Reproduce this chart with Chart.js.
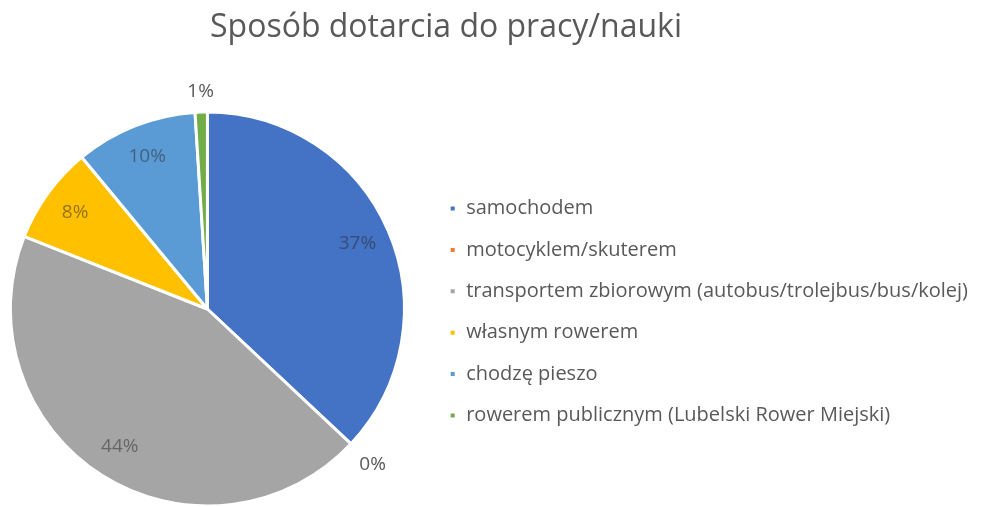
<!DOCTYPE html>
<html>
<head>
<meta charset="utf-8">
<script src="https://cdn.jsdelivr.net/npm/chart.js@4"></script>
<style>
    body { margin: 0; background: #fff; }
    #wrap { position: relative; width: 1005px; height: 507px; overflow: hidden; }
    #title {
        position: absolute; left: 0; top: 3px; width: 892px; text-align: center; line-height: normal;
        font-family: "Open Sans", sans-serif; font-size: 32px; color: #595959;
    }
    /* canvas pushed a bit left so the pie sits where Excel put it */
    #chart { position: absolute; left: -13px; top: 0; }
</style>
</head>
<body>
<div id="wrap">
    <canvas id="chart" width="1018" height="507"></canvas>
    <div id="title">Sposób dotarcia do pracy/nauki</div>
</div>
<script>
const categories = [
    'samochodem',
    'motocyklem/skuterem',
    'transportem zbiorowym (autobus/trolejbus/bus/kolej)',
    'własnym rowerem',
    'chodzę pieszo',
    'rowerem publicznym (Lubelski Rower Miejski)'
];
const shares = [37, 0, 44, 8, 10, 1]; // %
const colors = ['#4472C4', '#ED7D31', '#A5A5A5', '#FFC000', '#5B9BD5', '#70AD47'];

// percent labels, inside big slices, outside the small ones
const pctLabels = {
    id: 'pctLabels',
    afterDatasetsDraw(chart) {
        const ctx = chart.ctx;
        const meta = chart.getDatasetMeta(0);
        ctx.save();
        ctx.font = '19px "Open Sans", sans-serif';
        ctx.textAlign = 'center';
        ctx.textBaseline = 'middle';
        meta.data.forEach((arc, i) => {
            const { x, y, startAngle, endAngle, outerRadius } = arc.getProps(['x', 'y', 'startAngle', 'endAngle', 'outerRadius'], true);
            const mid = (startAngle + endAngle) / 2;
            const text = shares[i] + '%';
            const cos = Math.cos(mid), sin = Math.sin(mid);
            let r;
            if (shares[i] >= 2) {
                r = outerRadius * 0.83;
                ctx.fillStyle = 'rgba(40,40,40,0.5)';
            } else {
                const w = ctx.measureText(text).width;
                r = outerRadius + 20 + Math.abs(cos) * w / 2;
                ctx.fillStyle = '#595959';
            }
            ctx.fillText(text, x + cos * r, y + sin * r);
        });
        ctx.restore();
    }
};

new Chart(document.getElementById('chart'), {
    type: 'pie',
    data: {
        labels: categories,
        datasets: [{
            data: shares,
            backgroundColor: colors,
            borderColor: '#fff',
            borderWidth: 3,
            hoverOffset: 0,
            radius: 197
        }]
    },
    options: {
        responsive: false,
        animation: false,
        layout: { padding: { top: 111, bottom: 0, left: 0, right: 27 } },
        plugins: {
            legend: {
                position: 'right',
                align: 'center',
                maxWidth: 600,
                title: { display: true, text: '', font: { size: 5 }, padding: 0 },
                labels: {
                    boxWidth: 7,
                    boxHeight: 7,
                    padding: 21.4,
                    color: '#595959',
                    font: { family: '"Open Sans", sans-serif', size: 20 }
                }
            },
            tooltip: { enabled: false }
        }
    },
    plugins: [pctLabels]
});
</script>
</body>
</html>
